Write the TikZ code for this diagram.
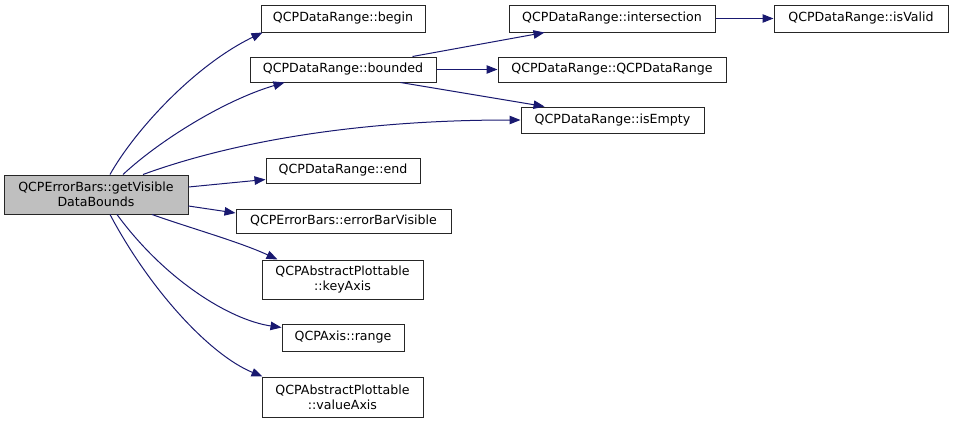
\documentclass[tikz,border=0pt]{standalone}
\usepackage{fontspec}
\setmainfont{DejaVu Sans}
\usetikzlibrary{arrows.meta}
\definecolor{edgecol}{HTML}{191970}
\definecolor{mainfill}{HTML}{BFBFBF}
\tikzset{
  fn/.style={draw=black!85, line width=1pt, fill=white, inner sep=0pt, align=center,
    font=\fontsize{12.6}{15}\selectfont},
  mainbox/.style={fn, fill=mainfill},
  call/.style={draw=edgecol, line width=1pt, -{Triangle[length=11pt,width=8.5pt]}, fill=none},
}
\begin{document}
\begin{tikzpicture}[x=1pt,y=-1pt]
\useasboundingbox (0,0) rectangle (953,423);
\node[mainbox, minimum width=184pt, minimum height=39pt] (main) at (96,194.5) {QCPErrorBars::getVisible\\DataBounds};
\node[fn, minimum width=164pt, minimum height=27pt] (begin) at (343,18.5) {QCPDataRange::begin};
\node[fn, minimum width=186pt, minimum height=25pt] (bounded) at (343,69.5) {QCPDataRange::bounded};
\node[fn, minimum width=206pt, minimum height=27pt] (inter) at (612,18.5) {QCPDataRange::intersection};
\node[fn, minimum width=228pt, minimum height=25pt] (ctor) at (612,69.5) {QCPDataRange::QCPDataRange};
\node[fn, minimum width=183pt, minimum height=26pt] (isempty) at (612.5,120) {QCPDataRange::isEmpty};
\node[fn, minimum width=174pt, minimum height=27pt] (isvalid) at (861,18.5) {QCPDataRange::isValid};
\node[fn, minimum width=154pt, minimum height=25pt] (end) at (343,170.5) {QCPDataRange::end};
\node[fn, minimum width=215pt, minimum height=24pt] (ebv) at (343.5,221) {QCPErrorBars::errorBarVisible};
\node[fn, minimum width=161pt, minimum height=39pt] (keyaxis) at (342.5,279.5) {QCPAbstractPlottable\\::keyAxis};
\node[fn, minimum width=122pt, minimum height=27pt] (range) at (343,337.5) {QCPAxis::range};
\node[fn, minimum width=161pt, minimum height=40pt] (valueaxis) at (342.5,397) {QCPAbstractPlottable\\::valueAxis};

\draw[call] ([xshift=14pt]main.north) .. controls (135,130) and (195,65) .. ([xshift=2pt]begin.south west);
\draw[call] ([xshift=27pt]main.north) .. controls (160,140) and (225,100) .. ([xshift=35pt]bounded.south west);
\draw[call] ([xshift=47pt]main.north) .. controls (210,150) and (330,120) .. (isempty.west);
\draw[call] ([yshift=7.5pt]main.east) -- ([yshift=-9pt]end.west);
\draw[call] ([yshift=-11.5pt]main.east) -- ([yshift=8pt]ebv.west);
\draw[call] ([xshift=56pt]main.south) .. controls (190,228) and (240,242) .. ([xshift=16pt]keyaxis.north west);
\draw[call] ([xshift=21pt]main.south) .. controls (165,280) and (230,320) .. ([yshift=-4pt]range.north west);
\draw[call] ([xshift=14pt]main.south) .. controls (150,290) and (210,355) .. ([xshift=1pt]valueaxis.north west);
\draw[call] ([xshift=-24pt]bounded.north east) -- ([xshift=36pt]inter.south west);
\draw[call] (bounded.east) -- (ctor.west);
\draw[call] ([xshift=-36pt]bounded.south east) -- ([xshift=24pt]isempty.north west);
\draw[call] (inter.east) -- (isvalid.west);
\end{tikzpicture}
\end{document}
